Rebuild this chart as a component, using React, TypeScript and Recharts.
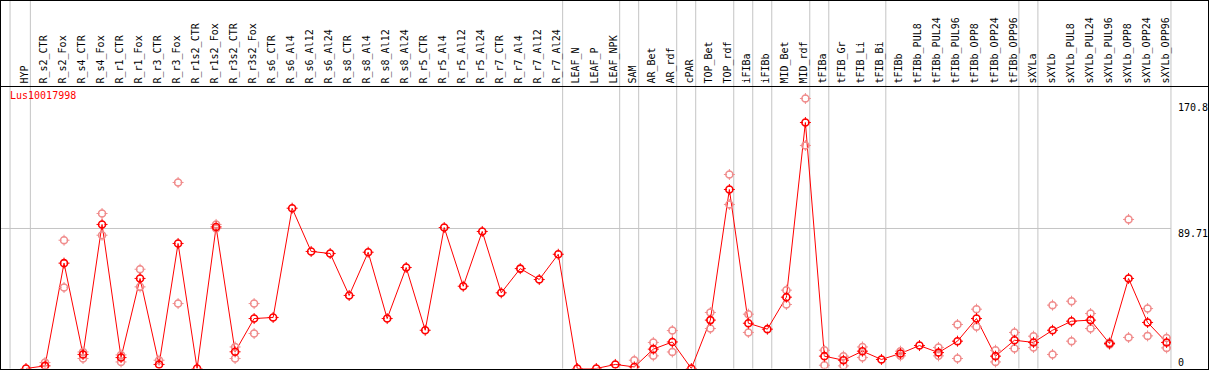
import { ComposedChart, Line, XAxis, YAxis, ReferenceLine } from 'recharts';

const CATEGORIES = [
  'HYP',
  'R_s2_CTR', 'R_s2_Fox', 'R_s4_CTR', 'R_s4_Fox', 'R_r1_CTR', 'R_r1_Fox', 'R_r3_CTR', 'R_r3_Fox',
  'R_r1s2_CTR', 'R_r1s2_Fox', 'R_r3s2_CTR', 'R_r3s2_Fox',
  'R_s6_CTR', 'R_s6_Al4', 'R_s6_Al12', 'R_s6_Al24', 'R_s8_CTR', 'R_s8_Al4', 'R_s8_Al12', 'R_s8_Al24',
  'R_r5_CTR', 'R_r5_Al4', 'R_r5_Al12', 'R_r5_Al24', 'R_r7_CTR', 'R_r7_Al4', 'R_r7_Al12', 'R_r7_Al24',
  'LEAF_N', 'LEAF_P', 'LEAF_NPK', 'SAM', 'AR_Bet', 'AR_rdf', 'cPAR', 'TOP_Bet', 'TOP_rdf',
  'iFIBa', 'iFIBb', 'MID_Bet', 'MID_rdf', 'tFIBa', 'tFIB_Gr', 'tFIB_Li', 'tFIB_Bi',
  'tFIBb', 'tFIBb_PUL8', 'tFIBb_PUL24', 'tFIBb_PUL96', 'tFIBb_OPP8', 'tFIBb_OPP24', 'tFIBb_OPP96',
  'sXYLa', 'sXYLb', 'sXYLb_PUL8', 'sXYLb_PUL24', 'sXYLb_PUL96', 'sXYLb_OPP8', 'sXYLb_OPP24', 'sXYLb_OPP96',
];

// mean expression per sample
const MEAN = [
  0,
  1.7, 67.5, 9, 92.3, 7, 57.7, 2.6, 80.1,
  0, 90.7, 10.7, 32,
  32.7, 102.7, 75, 73.7, 46.8, 74.5, 32, 64.7,
  24.5, 90.3, 52.7, 87.8, 48.5, 64, 57, 73.2,
  0, 0, 2.6, 1.0, 12.4, 17, 0, 31, 114.7,
  29, 25.2, 45.7, 157.6, 7.9, 5.3, 11.1, 5.8,
  9.6, 14.7, 10.2, 17.5, 32, 7.9, 18.1,
  16.7, 24.5, 30.3, 31, 16, 57.7, 29.5, 16.7,
];

// individual replicates (null = not shown)
const REP_A = [
  null,
  3.8, 82.2, 10.6, 99.3, 8.7, 63.6, 5.3, 119.2,
  null, 92.3, 13.8, 41.6,
  null, null, null, null, null, null, null, null,
  null, null, null, null, null, null, null, null,
  null, null, null, 5.3, 16.7, 24.3, null, 35.9, 124.3,
  34.8, null, 50.2, 173, 11.7, 7.9, 13.8, null,
  11.1, null, 13.5, 28.2, 38, 11.7, 23.1,
  20.7, 40.6, 43.1, 35.2, 16.7, 95.5, 38.4, 19.6,
];

const REP_B = [
  null,
  null, 51.9, 6.4, 85.4, 4.2, 52.3, null, 41.6,
  null, 89.7, 6.4, 22.4,
  null, null, null, null, null, null, null, null,
  null, null, null, null, null, null, null, null,
  null, null, null, null, 8.1, 10.6, null, 25.6, 105.1,
  23.1, null, 41, 142.9, 2.1, 1.7, 7, null,
  8.1, null, 8.1, 6.4, 26.7, 4.2, 12.8,
  13.5, 9, 17.5, 25.6, 15.4, 19.9, 20.9, 13.2,
];

// last sample index of each group
const GROUP_ENDS = [0, 28, 31, 32, 34, 35, 37, 38, 39, 41, 42, 45, 52, 53, 60];
const Y_TICKS = [0, 89.71, 170.8];
const GENE = 'Lus10017998';

const data = CATEGORIES.map((name, i) => ({
  i,
  name,
  mean: MEAN[i],
  repA: REP_A[i],
  repB: REP_B[i],
}));

const MONO = '"DejaVu Sans Mono", monospace';
const RED = '#ff0000';
const PINK = '#f08c8c';
const GRID = '#c4c4c4';

function Marker(props: any, color: string, width: number) {
  const { cx, cy, index } = props;
  const k = `m-${color}-${index}`;
  if (cy == null || cx == null || Number.isNaN(cy)) return <g key={k} />;
  const r = 3.5;
  const t = r + 2;
  return (
    <g key={k}>
      <circle cx={cx} cy={cy} r={r} fill="none" stroke={color} strokeWidth={width} />
      <line x1={cx} y1={cy - t} x2={cx} y2={cy - r + 1} stroke={color} strokeWidth={1} />
      <line x1={cx} y1={cy + r - 1} x2={cx} y2={cy + t} stroke={color} strokeWidth={1} />
      <line x1={cx - t} y1={cy} x2={cx - r + 1} y2={cy} stroke={color} strokeWidth={1} />
      <line x1={cx + r - 1} y1={cy} x2={cx + t} y2={cy} stroke={color} strokeWidth={1} />
    </g>
  );
}

function CategoryTick(props: any) {
  const { x, payload } = props;
  return (
    <text
      transform={`translate(${x + 2},83.5) rotate(-90)`}
      fontFamily={MONO}
      fontSize={10}
      fill="#000"
    >
      {CATEGORIES[payload.value]}
    </text>
  );
}

function ValueTick(props: any) {
  const { x, y, payload } = props;
  return (
    <text
      x={x + 7}
      y={payload.value === 0 ? y - 2.5 : y + 9}
      fontFamily={MONO}
      fontSize={10}
      fill="#000"
    >
      {String(payload.value)}
    </text>
  );
}

export default function App() {
  return (
    <div style={{ position: 'relative', width: 1209, height: 370, background: '#fff' }}>
      <style>{'body{margin:0}'}</style>
      <ComposedChart
        width={1209}
        height={370}
        data={data}
        margin={{ top: -2, right: 0, bottom: 1.5, left: 0 }}
      >
        <XAxis
          type="number"
          dataKey="i"
          orientation="top"
          height={2}
          domain={[-1.3677, 60.232]}
          allowDataOverflow
          ticks={data.map((d) => d.i)}
          interval={0}
          axisLine={false}
          tickLine={false}
          tick={CategoryTick}
        />
        <YAxis
          orientation="right"
          width={38}
          domain={[0, 236.1]}
          allowDataOverflow
          ticks={Y_TICKS}
          interval={0}
          axisLine={false}
          tickLine={false}
          tickSize={0}
          tickMargin={0}
          tick={ValueTick}
        />
        <ReferenceLine x={-0.84} stroke={GRID} strokeWidth={1} />
        {GROUP_ENDS.map((g) => (
          <ReferenceLine key={g} x={g + 0.23} stroke={GRID} strokeWidth={1} />
        ))}
        <ReferenceLine y={89.71} stroke={GRID} strokeWidth={1} />
        <Line
          dataKey="repA"
          stroke="none"
          legendType="none"
          dot={(p: any) => Marker(p, PINK, 1.5)}
          activeDot={false}
          isAnimationActive={false}
        />
        <Line
          dataKey="repB"
          stroke="none"
          legendType="none"
          dot={(p: any) => Marker(p, PINK, 1.5)}
          activeDot={false}
          isAnimationActive={false}
        />
        <Line
          dataKey="mean"
          stroke={RED}
          strokeWidth={1}
          dot={(p: any) => Marker(p, RED, 1.6)}
          activeDot={false}
          isAnimationActive={false}
        />
      </ComposedChart>
      <div
        style={{
          position: 'absolute',
          left: 0,
          top: 86,
          width: 1209,
          height: 1,
          background: '#000',
        }}
      />
      <div
        style={{
          position: 'absolute',
          left: 10,
          top: 90,
          fontFamily: MONO,
          fontSize: 10,
          lineHeight: '12px',
          color: RED,
        }}
      >
        {GENE}
      </div>
      <div
        style={{
          position: 'absolute',
          inset: 0,
          border: '1px solid #000',
          boxSizing: 'border-box',
          pointerEvents: 'none',
        }}
      />
    </div>
  );
}
